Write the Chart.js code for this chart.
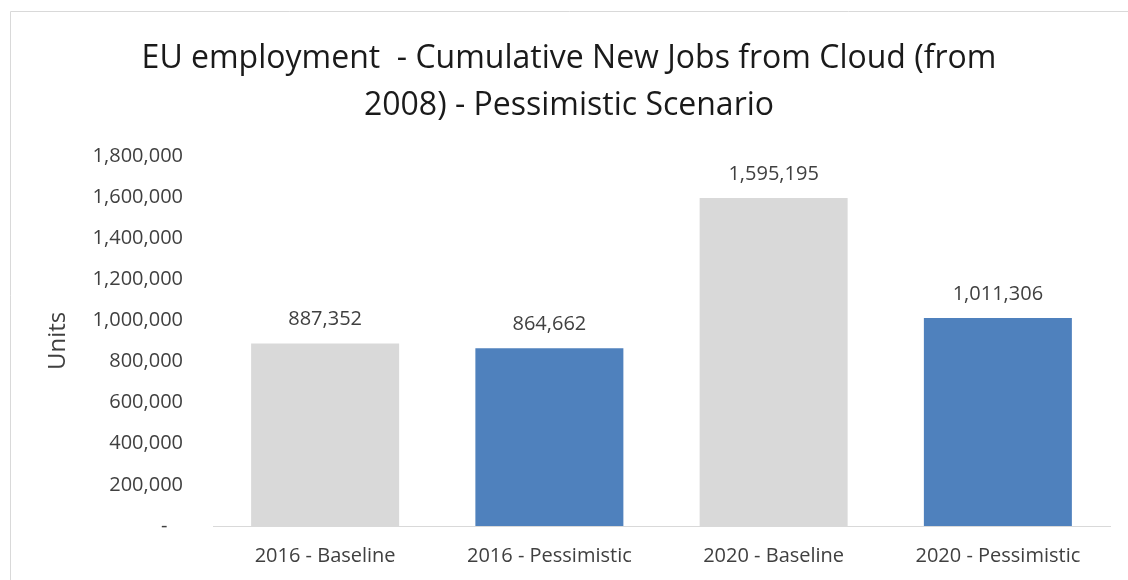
<!DOCTYPE html>
<html>
<head>
<meta charset="utf-8">
<script src="https://cdn.jsdelivr.net/npm/chart.js@4.4.1/dist/chart.umd.min.js"></script>
<style>
  body { margin: 0; background: #fff; }
  canvas { display: block; }
</style>
</head>
<body>
<canvas id="myChart" width="1128" height="580"></canvas>
<script>
const categories = ['2016 - Baseline', '2016 - Pessimistic', '2020 - Baseline', '2020 - Pessimistic'];
const jobs = [887352, 864662, 1595195, 1011306];
const barColors = ['#d9d9d9', '#4f81bd', '#d9d9d9', '#4f81bd'];
const yTicks = [0, 200000, 400000, 600000, 800000, 1000000, 1200000, 1400000, 1600000, 1800000];

const FONT = '"Open Sans", sans-serif';
const fmt = v => v.toLocaleString('en-US');

// thin grey frame round the chart
const framePlugin = {
  id: 'frame',
  beforeDraw(chart) {
    const c = chart.ctx;
    c.save();
    c.strokeStyle = '#d9d9d9';
    c.lineWidth = 1;
    c.beginPath();
    c.moveTo(10.5, chart.height);
    c.lineTo(10.5, 11.5);
    c.lineTo(chart.width, 11.5);
    c.stroke();
    c.restore();
  }
};

// value written above each bar
const valueLabels = {
  id: 'valueLabels',
  afterDatasetsDraw(chart) {
    const c = chart.ctx;
    const meta = chart.getDatasetMeta(0);
    c.save();
    c.font = '20px ' + FONT;
    c.fillStyle = '#404040';
    c.textAlign = 'center';
    c.textBaseline = 'middle';
    meta.data.forEach((bar, i) => {
      c.fillText(fmt(jobs[i]), bar.x, bar.y - 24);
    });
    c.restore();
  }
};

new Chart(document.getElementById('myChart'), {
  type: 'bar',
  data: {
    labels: categories,
    datasets: [{
      data: jobs,
      backgroundColor: barColors,
      barPercentage: 0.66,
      categoryPercentage: 1
    }]
  },
  options: {
    responsive: false,
    animation: false,
    layout: { padding: { left: 28, right: 18, top: 0, bottom: 0 } },
    plugins: {
      legend: { display: false },
      tooltip: { enabled: false },
      title: {
        display: true,
        text: ['EU employment  - Cumulative New Jobs from Cloud (from', '2008) - Pessimistic Scenario'],
        color: '#1a1a1a',
        font: { family: FONT, size: 32, weight: 'normal', lineHeight: 1.45 },
        padding: { top: 36, bottom: 27 }
      }
    },
    scales: {
      x: {
        grid: { display: false, drawTicks: false },
        border: { display: true, color: '#d9d9d9', width: 1 },
        ticks: { color: '#404040', font: { family: FONT, size: 20 }, padding: 18, maxRotation: 0 },
        afterFit(scale) { scale.height = 54; }
      },
      y: {
        min: 0,
        max: 1800000,
        afterBuildTicks(scale) { scale.ticks = yTicks.map(v => ({ value: v })); },
        grid: { display: false, drawTicks: false },
        border: { display: false },
        ticks: {
          color: '#404040',
          font: { family: FONT, size: 20 },
          padding: 30,
          callback: v => v === 0 ? '-   ' : fmt(v)
        },
        title: {
          display: true,
          text: 'Units',
          color: '#404040',
          font: { family: FONT, size: 24 },
          padding: { top: 16, bottom: 0 }
        },
        afterFit(scale) { scale.width = 185; }
      }
    }
  },
  plugins: [framePlugin, valueLabels]
});
</script>
</body>
</html>
